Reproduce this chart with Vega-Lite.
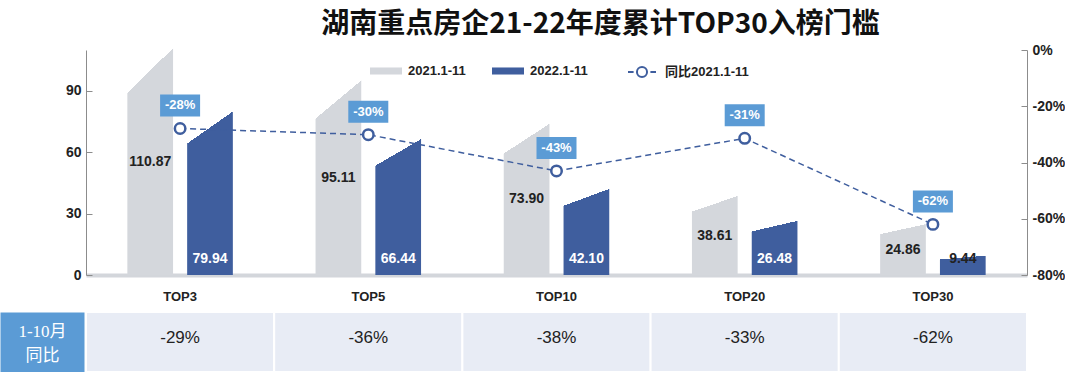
{
  "$schema": "https://vega.github.io/schema/vega-lite/v6.json",
  "background": "white",
  "padding": {"left": -30, "top": 11, "right": 0, "bottom": 0},
  "config": {
    "view": {"stroke": null},
    "font": "Liberation Sans",
    "locale": {"number": {"decimal": ".", "thousands": ",", "grouping": [3], "currency": ["$", ""], "minus": "-"}}
  },
  "datasets": {
    "bars": [
      {"cat": "TOP3", "series": "2021.1-11", "value": 110.87},
      {"cat": "TOP3", "series": "2022.1-11", "value": 79.94},
      {"cat": "TOP5", "series": "2021.1-11", "value": 95.11},
      {"cat": "TOP5", "series": "2022.1-11", "value": 66.44},
      {"cat": "TOP10", "series": "2021.1-11", "value": 73.90},
      {"cat": "TOP10", "series": "2022.1-11", "value": 42.10},
      {"cat": "TOP20", "series": "2021.1-11", "value": 38.61},
      {"cat": "TOP20", "series": "2022.1-11", "value": 26.48},
      {"cat": "TOP30", "series": "2021.1-11", "value": 24.86},
      {"cat": "TOP30", "series": "2022.1-11", "value": 9.44}
    ],
    "yoy": [
      {"cat": "TOP3", "yoy": -0.279},
      {"cat": "TOP5", "yoy": -0.301},
      {"cat": "TOP10", "yoy": -0.43},
      {"cat": "TOP20", "yoy": -0.314},
      {"cat": "TOP30", "yoy": -0.62}
    ],
    "table": [
      {"cat": "TOP3", "row": "1-10月 同比", "v": -0.29},
      {"cat": "TOP5", "row": "1-10月 同比", "v": -0.36},
      {"cat": "TOP10", "row": "1-10月 同比", "v": -0.38},
      {"cat": "TOP20", "row": "1-10月 同比", "v": -0.33},
      {"cat": "TOP30", "row": "1-10月 同比", "v": -0.62}
    ]
  },
  "spacing": 37,
  "bounds": "flush",
  "vconcat": [
    {
      "width": 941,
      "height": 225,
      "title": {
        "text": "湖南重点房企21-22年度累计TOP30入榜门槛",
        "font": "Noto Sans CJK SC",
        "fontSize": 28,
        "fontWeight": "bold",
        "color": "#111111",
        "anchor": "middle",
        "dx": 44,
        "offset": 4
      },
      "encoding": {
        "x": {
          "field": "cat", "type": "nominal",
          "sort": ["TOP3", "TOP5", "TOP10", "TOP20", "TOP30"],
          "scale": {"paddingInner": 0.4394, "paddingOuter": 0.2197},
          "axis": {
            "title": null, "labelAngle": 0, "ticks": false, "tickSize": 0,
            "labelPadding": 15, "labelFontSize": 13, "labelFontWeight": "bold",
            "labelColor": "#222222", "domainColor": "#D3D6DB", "domainWidth": 4
          }
        }
      },
      "layer": [
        {
          "data": {"name": "bars"},
          "encoding": {
            "xOffset": {"field": "series", "type": "nominal", "scale": {"domain": ["2021.1-11", "2022.1-11"], "paddingInner": 0.2358, "paddingOuter": 0}},
            "y": {
              "field": "value", "type": "quantitative",
              "scale": {"domain": [0, 110], "nice": false},
              "axis": {
                "title": null, "orient": "left", "values": [0, 30, 60, 90], "grid": false,
                "tickSize": -6, "labelPadding": 11, "domainColor": "#8C8C8C", "tickColor": "#8C8C8C",
                "labelFontSize": 14, "labelFontWeight": "bold", "labelColor": "#222222"
              }
            }
          },
          "layer": [
            {
              "mark": {"type": "bar"},
              "encoding": {
                "color": {
                  "field": "series", "type": "nominal",
                  "scale": {"domain": ["2021.1-11", "2022.1-11"], "range": ["#D4D7DC", "#3F5E9E"]},
                  "legend": {
                    "orient": "none", "legendX": 284, "legendY": 5, "direction": "horizontal", "title": null,
                    "symbolType": "M-1,-0.22H1V0.22H-1Z", "symbolSize": 1024, "symbolStrokeWidth": 0,
                    "labelFontSize": 13, "labelFontWeight": "bold", "labelColor": "#222222",
                    "labelOffset": 6, "columnPadding": 26
                  }
                }
              }
            },
            {
              "mark": {
                "type": "bar",
                "fill": {
                  "gradient": "linear", "x1": 0, "y1": 0, "x2": 0.196, "y2": 1,
                  "stops": [
                    {"offset": 0, "color": "#ffffff"},
                    {"offset": 0.1888, "color": "#ffffff"},
                    {"offset": 0.1888, "color": "rgba(255,255,255,0)"},
                    {"offset": 1, "color": "rgba(255,255,255,0)"}
                  ]
                },
                "stroke": {
                  "gradient": "linear", "x1": 0, "y1": 0, "x2": 0.196, "y2": 1,
                  "stops": [
                    {"offset": 0, "color": "#ffffff"},
                    {"offset": 0.1888, "color": "#ffffff"},
                    {"offset": 0.1888, "color": "rgba(255,255,255,0)"},
                    {"offset": 1, "color": "rgba(255,255,255,0)"}
                  ]
                },
                "strokeWidth": 2
              },
              "encoding": {}
            },
            {
              "transform": [{"filter": "datum.series === '2022.1-11'"}],
              "mark": {"type": "text", "dy": -16, "fontSize": 14, "fontWeight": "bold"},
              "encoding": {
                "y": {"datum": 0},
                "text": {"field": "value", "format": ".2f"},
                "color": {"condition": {"test": "datum.value < 15", "value": "#222222"}, "value": "#ffffff"}
              }
            }
          ]
        },
        {
          "data": {"name": "bars"},
          "transform": [{"filter": "datum.series === '2021.1-11'"}],
          "mark": {"type": "text", "fontSize": 14, "fontWeight": "bold", "color": "#222222"},
          "encoding": {
            "xOffset": {"field": "series", "type": "nominal", "scale": {"domain": ["2021.1-11", "2022.1-11"], "paddingInner": 0.2358, "paddingOuter": 0}},
            "y": {"field": "value", "type": "quantitative", "scale": {"domain": [0, 220], "nice": false}, "axis": null},
            "text": {"field": "value", "format": ".2f"}
          }
        },
        {
          "data": {"name": "yoy"},
          "encoding": {
            "y": {
              "field": "yoy", "type": "quantitative",
              "scale": {"domain": [-0.8, 0], "nice": false},
              "axis": {
                "title": null, "orient": "right", "values": [-0.8, -0.6, -0.4, -0.2, 0], "format": ".0%", "grid": false,
                "tickSize": -6, "labelPadding": 11, "domainColor": "#8C8C8C", "tickColor": "#8C8C8C",
                "labelFontSize": 14, "labelFontWeight": "bold", "labelColor": "#222222"
              }
            }
          },
          "layer": [
            {
              "mark": {"type": "line", "strokeDash": [6, 4], "strokeWidth": 1.5},
              "encoding": {
                "stroke": {
                  "datum": "同比2021.1-11",
                  "scale": {"range": ["#3F5E9E"]},
                  "legend": {
                    "orient": "none", "legendX": 541, "legendY": 7, "title": null,
                    "symbolType": "M-1,0H-0.6M0.6,0H1M-0.36,0A0.36,0.36,0,1,1,0.36,0A0.36,0.36,0,1,1,-0.36,0Z",
                    "symbolSize": 784, "symbolStrokeWidth": 2, "symbolFillColor": "#ffffff", "symbolDash": [100, 0],
                    "labelFont": "'Liberation Sans', 'Noto Sans CJK SC'",
                    "labelFontSize": 13, "labelFontWeight": "bold", "labelColor": "#222222", "labelOffset": 8
                  }
                }
              }
            },
            {
              "mark": {"type": "point", "shape": "circle", "size": 110, "fill": "#ffffff", "filled": false, "stroke": "#3F5E9E", "strokeWidth": 2.5, "opacity": 1},
              "encoding": {}
            },
            {
              "mark": {"type": "point", "shape": "M-1,-0.55H1V0.55H-1Z", "size": 1600, "filled": true, "fill": "#5B9BD5", "strokeWidth": 0, "opacity": 1, "yOffset": -23},
              "encoding": {}
            },
            {
              "mark": {"type": "text", "dy": -23, "color": "#ffffff", "fontSize": 13, "fontWeight": "bold"},
              "encoding": {"text": {"field": "yoy", "format": ".0%"}}
            }
          ]
        }
      ],
      "resolve": {"scale": {"y": "independent"}}
    },
    {
      "width": 941,
      "height": 60,
      "data": {"name": "table"},
      "encoding": {
        "x": {
          "field": "cat", "type": "nominal",
          "sort": ["TOP3", "TOP5", "TOP10", "TOP20", "TOP30"],
          "scale": {"paddingInner": 0, "paddingOuter": 0},
          "axis": null
        },
        "y": {
          "field": "row", "type": "nominal",
          "scale": {"paddingInner": 0, "paddingOuter": 0},
          "axis": {
            "title": null, "domain": false, "ticks": true, "tickSize": 84, "tickWidth": 60,
            "tickColor": "#5B9BD5", "tickCap": "butt", "offset": 2,
            "labelPadding": -42, "labelOffset": -10, "labelAlign": "center", "labelBaseline": "middle",
            "labelExpr": "split(datum.label, ' ')", "labelColor": "#ffffff",
            "labelFont": "'Liberation Serif', 'Noto Sans CJK SC'", "labelFontSize": 17, "labelLineHeight": 24, "labelLimit": 0
          }
        }
      },
      "layer": [
        {"mark": {"type": "rect", "fill": "#E8ECF5", "stroke": "#ffffff", "strokeWidth": 2}},
        {
          "mark": {"type": "text", "fontSize": 17, "color": "#222222", "dy": -4},
          "encoding": {"text": {"field": "v", "format": ".0%"}}
        }
      ]
    }
  ]
}
